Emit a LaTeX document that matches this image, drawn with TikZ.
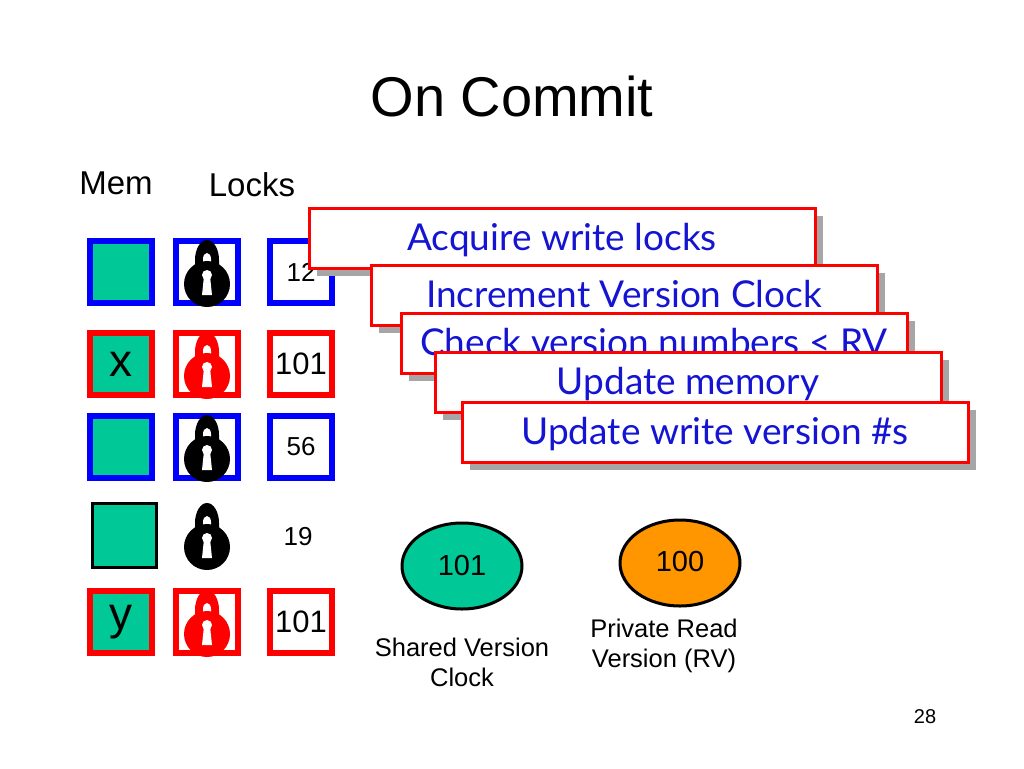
\documentclass[tikz,border=0pt]{standalone}
\usepackage{fontspec}
\setmainfont{Liberation Sans}
\newfontfamily\gill{Lato}
\usetikzlibrary{shapes.geometric}
\definecolor{memg}{RGB}{0,200,150}
\definecolor{stxt}{RGB}{20,20,210}
\definecolor{org}{RGB}{255,150,0}
\newcommand\lockicon[3]{% x y color
 \fill[#3] (#1-12,#2-2) -- (#1-12,#2-12) arc(180:360:12 and 20) -- (#1+12,#2-2) -- cycle;
 \fill[white] (#1-4,#2-6) -- (#1-4,#2-13) arc(180:360:4 and 6) -- (#1+4,#2-6) -- cycle;
 \fill[#3] (#1,#2+12) circle (23);
 \fill[white] (#1,#2+3) circle (5);
 \fill[white] (#1-3,#2+4) -- (#1+3,#2+4) -- (#1+5,#2+23) -- (#1-5,#2+23) -- cycle;}
\begin{document}
\begin{tikzpicture}[x=1pt,y=-1pt,
 mem/.style={draw=#1,line width=6pt,fill=memg,minimum size=62pt,inner sep=0pt,font=\fontsize{46}{46}\selectfont},
 ver/.style={draw=#1,line width=6pt,fill=white,minimum size=62pt,inner sep=0pt,font=\fontsize{31}{31}\selectfont},
 lbox/.style={draw=#1,line width=6pt,minimum size=62pt,inner sep=0pt},
 stepbox/.style={draw=red,line width=3pt,fill=white,minimum width=506pt,minimum height=60pt,inner sep=0pt,text=stxt,font=\gill\fontsize{37}{37}\selectfont,text depth=3pt},
 shadow/.style={fill=gray!70,minimum width=506pt,minimum height=60pt,inner sep=0pt},
 oval/.style={ellipse,draw=black,line width=3pt,minimum width=120pt,minimum height=86pt,font=\fontsize{29}{29}\selectfont},
 lbl/.style={font=\fontsize{25.5}{30}\selectfont,align=center}]
\useasboundingbox (0,0) rectangle (1024,768);
\node[font=\fontsize{56}{56}\selectfont] (title) at (512,96) {On Commit};
\node[font=\fontsize{33}{33}\selectfont] (mem) at (116,183) {Mem};
\node[font=\fontsize{33}{33}\selectfont] (locks) at (252,185) {Locks};
% rows
\node[mem=blue] (m1) at (121,272) {};
\node[lbox=blue] (l1) at (207,272) {};
\node[ver=blue,font=\fontsize{26}{26}\selectfont] (v1) at (301,272) {12};
\node[mem=red] (m2) at (121,364) {x};
\node[lbox=red] (l2) at (207,364) {};
\node[ver=red] (v2) at (301,364) {101};
\node[mem=blue] (m3) at (121,447) {};
\node[lbox=blue] (l3) at (207,447) {};
\node[ver=blue,font=\fontsize{26}{26}\selectfont] (v3) at (301,447) {56};
\node[draw=black,line width=3pt,fill=memg,minimum size=64pt,inner sep=0pt] (m4) at (124,535) {};
\node[font=\fontsize{26}{26}\selectfont] (v4) at (298,537) {19};
\node[mem=red] (m5) at (121,622) {y};
\node[lbox=red] (l5) at (207,622) {};
\node[ver=red] (v5) at (301,622) {101};
\lockicon{207}{272}{black}
\lockicon{207}{364}{red}
\lockicon{207}{447}{black}
\lockicon{207}{535}{black}
\lockicon{207}{622}{red}
% steps
\node[shadow] (s1s) at (570,246) {};
\node[stepbox] (s1) at (562,238) {Acquire write locks};
\node[shadow] (s2s) at (632,303) {};
\node[stepbox] (s2) at (624,295) {Increment Version Clock};
\node[shadow] (s3s) at (662,351) {};
\node[stepbox] (s3) at (654,343) {Check version numbers < RV};
\node[shadow] (s4s) at (696,390) {};
\node[stepbox] (s4) at (688,382) {Update memory};
\node[shadow] (s5s) at (723,440) {};
\node[stepbox] (s5) at (715,432) {Update write version \#s};
% clocks
\node[oval,fill=memg] (c1) at (462,566) {101};
\node[oval,fill=org] (c2) at (680,563) {\raisebox{3pt}{100}};
\node[lbl] (c1l) at (462,662) {Shared Version\\Clock};
\node[lbl] (c2l) at (664,646) {Private Read\\Version (RV)};
\node[font=\fontsize{20}{20}\selectfont] (pg) at (925,717) {28};
\end{tikzpicture}
\end{document}
